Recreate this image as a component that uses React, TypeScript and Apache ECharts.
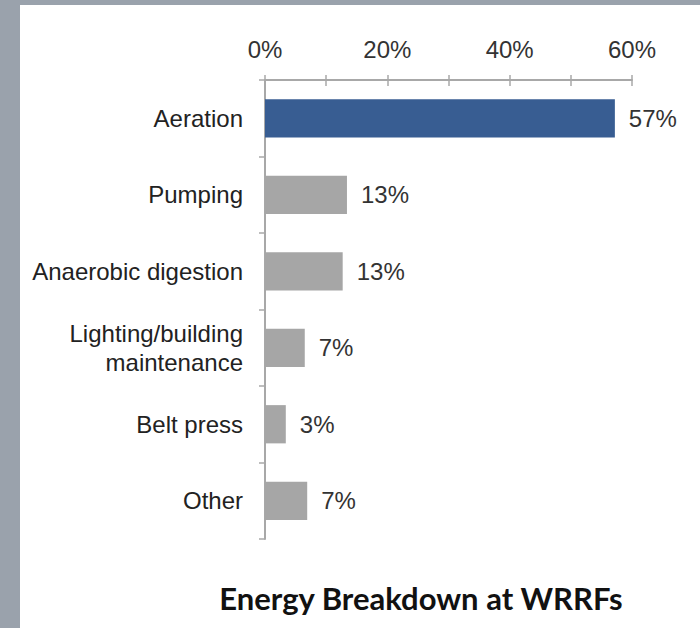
import React, { useEffect, useRef } from "react";
import * as echarts from "echarts";

const categories = [
  "Aeration",
  "Pumping",
  "Anaerobic digestion",
  "Lighting/building\nmaintenance",
  "Belt press",
  "Other",
];
const shares = [57.2, 13.4, 12.7, 6.5, 3.4, 6.9];
const barColors = ["#385d92", "#a6a6a6", "#a6a6a6", "#a6a6a6", "#a6a6a6", "#a6a6a6"];
const titleText = "Energy Breakdown at WRRFs";

const FONT = "'Liberation Sans', Arial, sans-serif";

export default function App() {
  const ref = useRef<HTMLDivElement>(null);
  useEffect(() => {
    if (!ref.current) return;
    const chart = echarts.init(ref.current, undefined, { renderer: "svg" });
    chart.setOption({
      animation: false,
      backgroundColor: "#ffffff",
      title: {
        text: titleText,
        left: 416,
        top: 577,
        textAlign: "center",
        textStyle: {
          fontFamily: "Lato, 'Open Sans', sans-serif",
          fontWeight: "bold",
          fontSize: 31,
          color: "#111111",
        },
      },
      graphic: [
        { type: "rect", shape: { x: 0, y: 0, width: 20, height: 628 }, style: { fill: "#9aa2ac" }, silent: true },
        { type: "rect", shape: { x: 0, y: 0, width: 700, height: 5 }, style: { fill: "#9aa2ac" }, silent: true },
      ],
      grid: { left: 265, right: 68, top: 80, bottom: 89, containLabel: false },
      xAxis: [
        {
          type: "value",
          position: "top",
          min: 0,
          max: 60,
          interval: 10,
          axisLine: { show: true, lineStyle: { color: "#a8a8a8", width: 2 } },
          axisTick: { show: true, inside: false, length: 5, lineStyle: { color: "#a8a8a8", width: 1.5 } },
          splitLine: { show: false },
          axisLabel: {
            margin: 19,
            fontFamily: FONT,
            fontSize: 24,
            color: "#333333",
            formatter: (v: number) => (v % 20 === 0 ? v + "%" : ""),
          },
        },
        {
          type: "value",
          position: "top",
          min: 0,
          max: 60,
          interval: 10,
          axisLine: { show: false },
          axisTick: { show: true, inside: true, length: 6, lineStyle: { color: "#a8a8a8", width: 1.5 } },
          splitLine: { show: false },
          axisLabel: { show: false },
        },
      ],
      yAxis: {
        type: "category",
        data: categories,
        inverse: true,
        axisLine: { show: true, lineStyle: { color: "#a8a8a8", width: 2 } },
        axisTick: { show: true, length: 6, lineStyle: { color: "#a8a8a8", width: 1.5 } },
        axisLabel: {
          margin: 22,
          fontFamily: FONT,
          fontSize: 24,
          color: "#222222",
          lineHeight: 29,
          align: "right",
        },
      },
      series: [
        {
          type: "bar",
          xAxisIndex: 0,
          barWidth: "50%",
          data: shares.map((v, i) => ({ value: v, itemStyle: { color: barColors[i] } })),
          label: {
            show: true,
            position: "right",
            distance: 14,
            fontFamily: FONT,
            fontSize: 24,
            color: "#333333",
            formatter: (p: any) => Math.round(p.value) + "%",
          },
        },
      ],
    });
    return () => chart.dispose();
  }, []);
  return (
    <div
      ref={ref}
      style={{ position: "fixed", left: 0, top: 0, width: 700, height: 628 }}
    />
  );
}
